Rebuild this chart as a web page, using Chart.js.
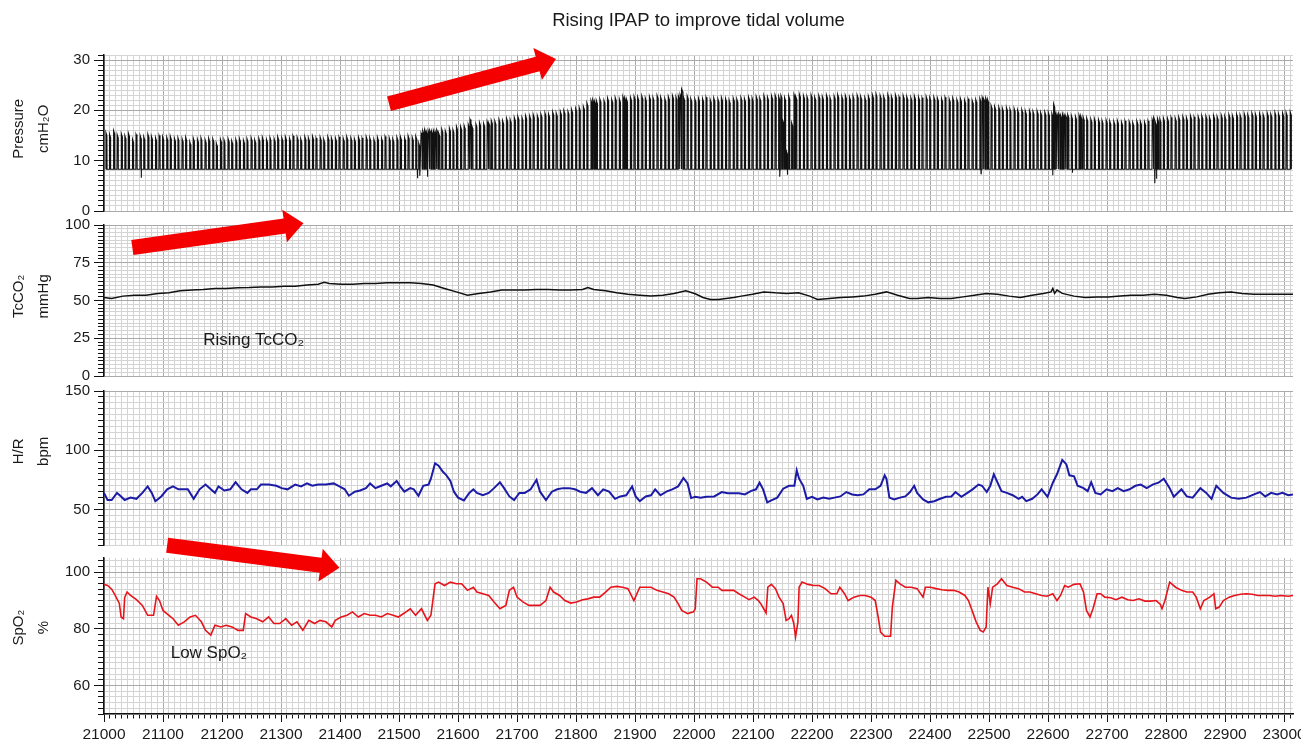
<!DOCTYPE html>
<html>
<head>
<meta charset="utf-8">
<script src="https://cdn.jsdelivr.net/npm/chart.js@4.4.1/dist/chart.umd.min.js"></script>
<style>
html,body{margin:0;padding:0;background:#fff;}
#wrap{position:relative;width:1301px;height:742px;overflow:hidden;background:#fff;}
canvas{position:absolute;left:0;}
</style>
</head>
<body>
<div id="wrap">
<canvas id="c1" width="1301" height="225" style="top:0px"></canvas>
<canvas id="c2" width="1301" height="190" style="top:200px"></canvas>
<canvas id="c3" width="1301" height="182" style="top:377px"></canvas>
<canvas id="c4" width="1301" height="222" style="top:520px"></canvas>
</div>
<script>
// ---------------- DATA ----------------
const chartTitle = 'Rising IPAP to improve tidal volume';

// Pressure (cmH2O): one entry per breath: time and IPAP peak
const breathTime = [
21003,21009,21016,21022,21029,21035,21041,21048,21054,21061,21067,21074,21080,21087,21093,21099,
21106,21112,21119,21125,21132,21138,21145,21151,21158,21164,21171,21177,21184,21190,21197,
21203,21210,21216,21223,21229,21236,21242,21249,21255,21262,21268,21275,21281,21288,21294,
21301,21307,21314,21320,21327,21333,21340,21346,21353,21359,21366,21372,21379,21385,21392,21398,
21405,21411,21418,21424,21431,21437,21444,21450,21457,21463,21470,21476,21483,21489,21496,
21502,21509,21515,21522,21528,21533,21537,21540,21543,21546,21549,21552,21555,21558,21561,21564,21567,21572,21578,21585,21591,21597,
21604,21610,21617,21620,21623,21630,21636,21643,21649,21652,21656,21662,21669,21675,21682,21688,21695,
21701,21708,21714,21721,21727,21734,21740,21747,21753,21760,21766,21773,21779,21786,21792,21799,
21805,21812,21818,21825,21828,21831,21834,21840,21847,21853,21860,21866,21873,21879,21882,21885,21892,21898,
21904,21911,21917,21924,21930,21937,21943,21950,21956,21963,21969,21973,21976,21979,21982,21988,21994,
22001,22007,22014,22020,22027,22033,22040,22046,22053,22059,22066,22072,22079,22085,22092,22098,
22105,22111,22118,22124,22131,22137,22143,22147,22150,22153,22156,22160,22165,22169,22172,22178,22185,22191,22198,
22204,22211,22217,22224,22230,22237,22243,22250,22256,22263,22269,22276,22282,22289,22295,
22302,22308,22315,22321,22328,22334,22341,22347,22354,22360,22367,22373,22380,22386,22393,22399,
22406,22412,22419,22425,22432,22438,22445,22451,22458,22464,22471,22477,22484,22488,22491,22494,22497,
22503,22509,22516,22522,22529,22535,22542,22548,22555,22561,22568,22574,22581,22587,22594,
22600,22606,22609,22612,22615,22618,22621,22624,22627,22630,22633,22639,22646,22652,22655,22659,22665,22672,22678,22685,22691,22698,
22704,22711,22717,22724,22730,22737,22743,22750,22756,22763,22769,22776,22779,22782,22785,22789,22795,
22802,22808,22815,22821,22828,22834,22841,22847,22854,22860,22867,22873,22880,22886,22893,22899,
22906,22912,22919,22925,22932,22938,22945,22951,22958,22964,22971,22977,22984,22990,22997,23003,23010];
const breathPeak = [
15.6,15.3,16.0,15.2,15.4,15.0,15.5,14.3,15.2,15.0,14.8,15.3,14.9,14.6,15.0,14.8,
14.7,14.9,14.5,14.6,14.4,14.7,13.8,14.5,14.3,14.6,14.2,14.5,14.4,13.5,14.3,
14.2,14.4,14.0,14.3,14.5,14.1,14.4,14.6,14.2,14.5,14.7,14.3,14.6,14.4,14.8,
14.6,14.8,14.5,14.9,14.7,14.4,14.8,14.6,14.9,14.5,14.7,14.3,14.8,14.6,14.5,14.7,
14.5,14.8,14.6,14.4,14.7,14.5,14.8,14.6,14.3,14.7,14.5,14.8,14.6,14.4,14.7,
14.8,14.6,15.0,14.7,14.9,13.5,15.5,16.0,16.2,15.8,16.0,16.1,15.9,16.0,15.8,16.2,15.5,16.3,16.0,16.5,16.2,16.8,
16.8,17.0,17.2,18.2,17.0,17.3,17.6,17.4,17.8,17.5,18.0,17.9,18.2,18.0,18.4,18.2,18.6,
18.8,18.6,19.0,18.9,19.2,19.0,19.3,19.5,19.3,19.7,19.5,19.8,20.0,19.8,20.2,20.4,
20.6,20.8,21.5,22.0,22.2,21.8,22.0,22.3,22.0,22.5,22.2,22.6,22.3,22.8,22.5,22.3,22.6,22.8,
22.7,22.9,22.5,22.8,22.6,23.0,22.7,22.4,22.8,23.0,22.7,22.9,23.2,24.3,22.6,22.9,22.4,
22.3,22.5,22.4,22.6,22.2,22.5,22.3,22.6,22.4,22.1,22.5,22.3,22.6,22.4,22.7,22.5,
22.8,22.5,23.0,22.7,22.9,23.1,22.8,23.0,18.0,22.6,12.0,22.9,17.5,23.2,22.8,23.3,23.0,22.8,23.1,
22.7,23.0,22.8,23.1,22.6,22.9,23.2,22.8,23.0,22.7,22.9,23.1,22.8,22.6,22.9,
23.1,23.3,23.0,22.8,23.2,22.9,23.1,22.7,23.0,22.8,22.6,22.9,22.7,22.5,22.8,22.6,
22.7,22.5,22.4,22.6,22.3,22.5,22.2,22.4,22.1,22.3,22.0,22.2,22.4,22.6,22.3,22.5,22.2,
21.0,20.8,20.7,20.5,20.6,20.3,20.4,20.1,20.2,19.9,20.0,19.8,19.9,19.6,19.7,
19.6,19.4,21.3,19.5,19.2,19.4,19.0,19.3,19.1,18.9,19.2,19.0,18.8,19.1,18.9,18.7,18.5,18.3,18.4,18.2,18.0,18.1,
17.9,17.8,18.0,17.7,17.9,17.8,17.6,17.9,17.8,17.7,17.9,18.2,18.6,17.5,18.4,18.3,18.5,
18.4,18.6,18.5,18.7,18.8,18.6,18.9,18.7,18.8,19.0,18.9,18.7,19.0,18.8,19.1,18.9,
19.2,19.0,19.3,19.1,19.4,19.2,19.5,19.3,19.4,19.2,19.5,19.3,19.6,19.4,19.5,19.6,19.7];
const pressureEPAP = 8.3;
const dipTime  = [21063, 21531, 21535, 21548, 22145, 22158, 22486, 22607.5, 22641, 22780.5, 22783.5];
const dipValue = [6.6, 6.5, 7.0, 6.8, 6.8, 7.2, 7.4, 7.1, 7.6, 5.5, 6.4];

// TcCO2 (mmHg)
const tcTime = [
21000,21013,21032,21052,21071,21091,21110,21129,21149,21168,
21188,21207,21227,21246,21266,21285,21305,21324,21344,21363,
21373,21382,21402,21421,21441,21460,21480,21499,21519,21538,
21558,21577,21597,21616,21635,21655,21674,21694,21713,21733,
21752,21772,21791,21811,21820,21830,21850,21869,21888,21908,
21927,21947,21966,21986,22002,22015,22028,22041,22054,22067,
22080,22099,22118,22138,22157,22177,22196,22209,22229,22248,
22268,22287,22307,22326,22345,22365,22378,22397,22417,22436,
22456,22475,22495,22514,22534,22553,22573,22592,22605,22608,
22611,22615,22624,22644,22663,22683,22702,22722,22741,22761,
22780,22800,22819,22832,22852,22871,22890,22910,22929,22949,
22968,22988,23015];
const tcValue = [
52,51.4,52.9,53.5,53.5,54.7,55.1,56.4,56.9,57.3,
58,58,58.4,58.6,59,59,59.5,59.5,60.2,60.8,
62,61.3,60.8,60.8,61.3,61.3,61.7,61.7,61.7,61.3,
60.2,58,55.7,53.5,54.7,55.7,56.9,56.9,56.9,57.3,
57.3,56.9,56.9,57.3,58.6,57.3,56.4,55.1,54.2,53.5,
52.9,53.5,54.7,56.4,54.5,52,50.7,50.7,51.4,52,
52.9,54.2,55.7,55.1,54.7,55.1,52.9,50.7,51.4,52,
52.4,52.9,54.2,55.7,53.5,51.4,51.4,52,51.4,51.4,
52.4,53.5,54.7,54.2,52.9,52,53.5,54.7,55.7,58,
54.7,56.9,54.7,52.9,52,52.4,52.4,52.9,53.5,53.5,
54.2,53.5,52,51.4,52.4,54.2,55.1,55.7,54.7,54.2,
54.2,54.2,54.2];

// Heart rate (bpm)
const hrTime = [
21000,21006,21013,21022,21029,21035,21045,21055,21065,21074,
21081,21087,21097,21107,21117,21126,21136,21142,21152,21162,
21172,21181,21188,21194,21204,21214,21223,21233,21243,21249,
21259,21266,21279,21292,21301,21311,21324,21334,21344,21353,
21363,21376,21389,21399,21408,21415,21425,21434,21444,21451,
21460,21470,21480,21486,21496,21502,21509,21519,21525,21533,
21541,21550,21554,21561,21567,21574,21580,21587,21593,21600,
21610,21619,21626,21632,21642,21652,21661,21671,21678,21687,
21695,21704,21713,21723,21733,21739,21749,21759,21768,21778,
21788,21798,21807,21817,21827,21837,21846,21856,21866,21875,
21885,21895,21901,21908,21918,21927,21934,21943,21953,21963,
21973,21982,21989,21995,22002,22011,22021,22034,22047,22057,
22067,22076,22086,22096,22105,22111,22117,22124,22131,22141,
22151,22161,22170,22174,22178,22185,22191,22200,22209,22219,
22229,22238,22248,22258,22268,22277,22287,22297,22307,22316,
22323,22326,22331,22339,22349,22358,22366,22373,22378,22388,
22397,22407,22417,22427,22436,22443,22453,22462,22472,22482,
22488,22496,22502,22508,22514,22521,22530,22540,22550,22556,
22563,22573,22582,22589,22599,22608,22615,22624,22631,22636,
22644,22650,22660,22667,22673,22680,22689,22699,22709,22718,
22728,22738,22748,22757,22767,22777,22787,22796,22806,22813,
22826,22835,22845,22858,22868,22877,22885,22897,22910,22923,
22936,22949,22959,22968,22978,22988,22997,23007,23015];
const hrValue = [
64,58,58,64,61,58,60,59,64,69.5,
64,57,61,67,69.5,67,67,67,59,67,
71,67,64,69.5,66,67,73,67,64,67,
67,71,71,70,68,67,71,69.5,72,70,
71,71,72,69.5,67,61.6,65,66,68,72,
68,70,72,69.5,74,69.5,65,68,67,61.6,
70,71,76,89,87,82,79,74,65,60,
57.6,64,67,64,62,64,68,73,68,61,
58,64,64,67,75,65,58,65,67,68,
68,67,65,64,68,62,67,65,59,61,
62,69.5,61,57,61,62,67,62,65,67,
69.5,76.6,72,59.6,60.7,60,60.7,61,64.7,63.6,
63.6,63.6,62.7,65.5,67,72.6,67,56,57.6,60,
67.5,70,70,83,76,70,59,60.7,58.5,60,
59,60,61,64.7,62.7,62,62.7,67,67,70,
78.8,76,60,58.5,60,61,64.7,70,64,58.5,
56,57,59,60.7,61,64.7,60.7,63.6,67,71,
70,64.7,70,79.7,73,65.5,64,62,59,60.7,
57,59,62.7,67,60.7,72.6,79.7,91.8,88,78.8,
78,70,68,65.5,73,64,62.7,67,65.5,68,
65.5,67,70,71,68,71,72.6,76,68,60.7,
67,61,60,68,64,59,70,64,60,59,
60,62.7,64.7,61,64,62.7,64,62,62.7];

// SpO2 (%)
const spo2Time = [
21000,21006,21013,21019,21026,21029,21033,21035,21039,21045,
21055,21065,21074,21084,21089,21094,21100,21110,21117,21126,
21136,21146,21155,21165,21172,21181,21188,21198,21207,21217,
21227,21236,21240,21249,21259,21269,21279,21288,21298,21308,
21318,21327,21337,21347,21357,21366,21376,21386,21392,21402,
21412,21421,21431,21441,21451,21460,21470,21480,21490,21499,
21509,21519,21528,21538,21548,21554,21561,21567,21577,21587,
21597,21606,21616,21626,21632,21642,21652,21661,21671,21681,
21687,21694,21700,21710,21720,21730,21739,21749,21756,21762,
21772,21781,21791,21801,21811,21820,21830,21840,21850,21859,
21869,21879,21888,21898,21908,21918,21927,21937,21947,21957,
21966,21973,21979,21989,21999,22002,22005,22011,22021,22031,
22041,22047,22057,22067,22076,22086,22093,22102,22109,22113,
22118,22122,22125,22131,22138,22144,22151,22156,22161,22165,
22169,22172,22176,22178,22183,22193,22203,22212,22222,22232,
22242,22247,22255,22261,22271,22281,22290,22300,22307,22312,
22316,22323,22333,22336,22342,22349,22358,22368,22378,22388,
22392,22401,22410,22420,22430,22440,22449,22459,22465,22472,
22478,22485,22490,22495,22498,22502,22506,22514,22521,22530,
22540,22550,22560,22569,22579,22589,22598,22608,22615,22621,
22628,22634,22644,22654,22660,22665,22671,22676,22683,22689,
22696,22706,22715,22725,22735,22744,22754,22764,22774,22783,
22790,22793,22798,22806,22816,22826,22835,22845,22851,22858,
22864,22874,22881,22884,22890,22897,22907,22916,22926,22936,
22946,22955,22965,22975,22985,22994,23007,23015];
const spo2Value = [
95.7,95.3,94,91.8,89,84.2,83.6,91,93,91.8,
90.3,88.3,84.8,84.8,91.5,90,86.5,84.8,83.6,81.3,
82.5,84.2,84.8,82.5,79.5,77.8,81.3,80.7,81.3,80.7,
79.5,79.5,85.4,84.2,83.6,82.5,84.2,81.9,81.9,83.6,
81.3,82.5,79.5,83,81.9,83,82.5,80.7,83,84.2,
84.8,86,84.2,85.4,84.8,84.8,84.2,85.4,84.8,84.2,
85.6,87.1,84.8,87.1,83,84.8,95.9,96.5,95.3,96.5,
95.9,95.9,93.6,94.7,93,92.4,91.8,89.5,87.1,88.3,
93.6,94.7,91.2,89.5,88.3,88.3,88.3,90,94.7,93,
91.8,90,89.1,89.5,90.3,90.6,91.2,91.2,93,94.7,
95,94.7,94.2,90,94.7,94.7,94.7,93.6,93,92.4,
91.2,88.9,86.5,85.4,86,87.1,97.7,97.7,96.5,94.7,
94.7,93.6,93.6,93.6,92.4,91.2,90.3,91.2,90,88.9,
87.1,85.6,94.7,95.7,94.2,91.2,88.9,83,83.6,84.8,
81.9,77.2,82.5,94.7,96.5,95.7,95.3,95.3,94.2,92.4,
92.4,94.7,92.4,90,91.2,91.8,91.8,91.2,90,84.2,
78.9,77.4,77.4,87.7,97.1,95.9,94.7,94.7,94.2,91.2,
94.7,94.7,94.2,93.8,93.6,93.6,93,91.8,90,86,
82.5,79.5,78.9,80.7,94.7,88.9,94.7,95.9,97.7,95.3,
94.7,94.2,93,93,92.4,91.8,91.5,92.4,90,91.8,
95.3,94.7,95.7,95.9,93,86.5,84.2,87.1,92.4,92.4,
91.2,91,90.3,91.2,90.3,90,90.6,89.8,89.8,90,
88.7,87.1,90,96.5,94.7,93.6,93,93,91.2,87.1,
90,91.2,92.4,87.1,87.7,90,91.2,91.8,92.2,92.4,
92.2,91.8,91.8,91.8,91.5,91.8,91.5,91.8];

// Axis ranges / tick steps
const xRange = [21000, 23015]; const xLastTick = 23010; const xMinorStep = 10; const xMajorStep = 100;
const pressureAxis = {min: 0,  max: 31,  minor: 1,   major: 10, title: ['Pressure', 'cmH\u2082O'], lift: 2};
const tcAxis       = {min: 0,  max: 100, minor: 2.5, major: 25, title: ['TcCO\u2082', 'mmHg'], lift: 2};
const hrAxis       = {min: 20, max: 150, minor: 5,   major: 50, title: ['H/R', 'bpm'], lift: 8};
const spo2Axis     = {min: 50, max: 105, minor: 2,   major: 20, title: ['SpO\u2082', '%'], lift: 4};

// Annotations (data coordinates of each panel)
const pressureArrow = [[21483, 21.3], [21766, 30.2]];
const tcArrow       = [[21048, 85.1], [21338, 101.1]];
const spo2Arrow     = [[21107, 109.5], [21399, 101.6]];
const tcNote   = {x: 21168, y: 23.8, text: 'Rising TcCO\u2082'};
const spo2Note = {x: 21113, y: 71.5, text: 'Low SpO\u2082'};

// ---------------- STYLE ----------------
const FONT = "'Liberation Sans', Arial, Helvetica, sans-serif";
const MAJOR_GRID = '#a9a9a9', MINOR_GRID = '#d4d4d4', AXIS = '#111', TEXT = '#1a1a1a';

function isMajor(v, m) { const r = v / m; return Math.abs(r - Math.round(r)) < 1e-6; }
function tickList(min, max, step) {
  const out = [];
  for (let i = 0; ; i++) { const v = +(min + i * step).toFixed(6); if (v > max + 1e-9) break; out.push({value: v}); }
  return out;
}

const annotPlugin = {
  id: 'annot',
  afterDatasetsDraw(chart, args, opts) {
    const {ctx} = chart; const xs = chart.scales.x, ys = chart.scales.y;
    ctx.save();
    (opts.arrows || []).forEach(a => {
      const x0 = xs.getPixelForValue(a[0][0]), y0 = ys.getPixelForValue(a[0][1]);
      const x1 = xs.getPixelForValue(a[1][0]), y1 = ys.getPixelForValue(a[1][1]);
      const dx = x1 - x0, dy = y1 - y0, len = Math.hypot(dx, dy);
      const ux = dx / len, uy = dy / len, nx = -uy, ny = ux;
      const sw = 7.5, hw = 16.5, hl = 19;
      const bx = x1 - ux * hl, by = y1 - uy * hl;
      ctx.beginPath();
      ctx.moveTo(x0 + nx * sw, y0 + ny * sw);
      ctx.lineTo(bx + nx * sw, by + ny * sw);
      ctx.lineTo(bx + nx * hw, by + ny * hw);
      ctx.lineTo(x1, y1);
      ctx.lineTo(bx - nx * hw, by - ny * hw);
      ctx.lineTo(bx - nx * sw, by - ny * sw);
      ctx.lineTo(x0 - nx * sw, y0 - ny * sw);
      ctx.closePath();
      ctx.fillStyle = '#f50000';
      ctx.fill();
    });
    (opts.notes || []).forEach(n => {
      ctx.font = '17px ' + FONT;
      ctx.fillStyle = TEXT;
      ctx.textAlign = 'left';
      ctx.textBaseline = 'middle';
      ctx.fillText(n.text, xs.getPixelForValue(n.x), ys.getPixelForValue(n.y));
    });
    ctx.restore();
  }
};

function xAxis(showLabels) {
  return {
    type: 'linear', min: xRange[0], max: xRange[1],
    afterBuildTicks: s => { s.ticks = tickList(xRange[0], xLastTick, xMinorStep); },
    afterFit: s => { s.height = showLabels ? 28 : 0; },
    ticks: {
      display: showLabels, autoSkip: false, maxRotation: 0, minRotation: 0, padding: 3,
      color: TEXT, font: {family: FONT, size: 15.5},
      callback: v => isMajor(v, xMajorStep) ? String(v) : ''
    },
    grid: {
      color: c => (c.tick && isMajor(c.tick.value, xMajorStep)) ? MAJOR_GRID : MINOR_GRID,
      lineWidth: 1, drawTicks: showLabels, tickLength: 8, tickColor: AXIS, tickWidth: 1,
      tickBorderDash: c => (c.tick && isMajor(c.tick.value, xMajorStep)) ? [] : [4, 40]
    },
    border: {display: showLabels, color: AXIS, width: 1.5}
  };
}

function yAxis(a) {
  const pad = ' '.repeat(a.lift);
  return {
    type: 'linear', position: 'left', min: a.min, max: a.max,
    afterBuildTicks: s => { s.ticks = tickList(a.min, a.max, a.minor); },
    afterFit: s => { s.width = 104; },
    ticks: {
      autoSkip: false, padding: 4, color: TEXT, font: {family: FONT, size: 15},
      callback: v => isMajor(v, a.major) ? String(v) : ''
    },
    grid: {
      color: c => (c.tick && isMajor(c.tick.value, a.major)) ? MAJOR_GRID : MINOR_GRID,
      lineWidth: 1, tickLength: 10, tickColor: AXIS, tickWidth: 1,
      tickBorderDash: c => (c.tick && isMajor(c.tick.value, a.major)) ? [] : [0, 4, 6, 40]
    },
    border: {display: true, color: AXIS, width: 1.5},
    title: {
      display: true, text: a.title.map(t => pad + t), color: TEXT,
      font: {family: FONT, size: 15, lineHeight: 1.7}, padding: {top: 6, bottom: 0}
    }
  };
}

function pts(t, v) { return t.map((x, i) => ({x, y: v[i]})); }

function makeChart(id, axis, datasets, padding, showX, extra) {
  return new Chart(document.getElementById(id), {
    type: 'line',
    data: {datasets},
    options: {
      responsive: false, animation: false, devicePixelRatio: 1,
      layout: {padding},
      plugins: Object.assign({legend: {display: false}, tooltip: {enabled: false}, title: {display: false}}, extra || {}),
      scales: {x: xAxis(showX), y: yAxis(axis)},
      elements: {point: {radius: 0}, line: {tension: 0}}
    },
    plugins: [annotPlugin]
  });
}

// Pressure waveform built from the breath list
const events = [];
breathTime.forEach((t, i) => events.push({t, b: true, v: breathPeak[i]}));
dipTime.forEach((t, i) => events.push({t, b: false, v: dipValue[i]}));
events.sort((p, q) => p.t - q.t);
const pressurePts = [];
events.forEach(e => {
  if (e.b) {
    pressurePts.push({x: e.t, y: pressureEPAP}, {x: e.t + 0.3, y: e.v}, {x: e.t + 1.9, y: e.v - 0.6}, {x: e.t + 2.2, y: pressureEPAP});
  } else {
    pressurePts.push({x: e.t, y: pressureEPAP}, {x: e.t + 0.3, y: e.v}, {x: e.t + 0.7, y: pressureEPAP});
  }
});

makeChart('c1', pressureAxis,
  [{data: pressurePts, borderColor: '#111', borderWidth: 1.1}],
  {top: 0, bottom: 14, left: 0, right: 8}, false,
  {
    title: {display: true, text: chartTitle, color: TEXT, fullSize: false,
            font: {family: FONT, size: 18.5, weight: 'normal'}, padding: {top: 10, bottom: 22.8}},
    annot: {arrows: [pressureArrow]}
  });

makeChart('c2', tcAxis,
  [{data: pts(tcTime, tcValue), borderColor: '#111', borderWidth: 1.5}],
  {top: 25, bottom: 14, left: 0, right: 8}, false,
  {annot: {arrows: [tcArrow], notes: [tcNote]}});

makeChart('c3', hrAxis,
  [{data: pts(hrTime, hrValue), borderColor: '#1b1ba6', borderWidth: 2}],
  {top: 14, bottom: 14, left: 0, right: 8}, false,
  {annot: {}});

makeChart('c4', spo2Axis,
  [{data: pts(spo2Time, spo2Value), borderColor: '#e8141b', borderWidth: 1.6}],
  {top: 38, bottom: 0, left: 0, right: 8}, true,
  {annot: {arrows: [spo2Arrow], notes: [spo2Note]}});
</script>
</body>
</html>
